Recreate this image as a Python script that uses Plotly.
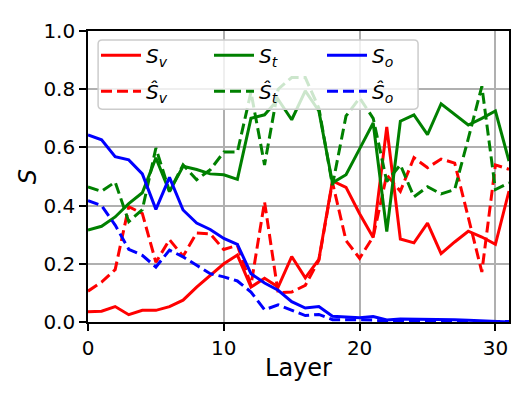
import plotly.graph_objects as go

# camadas (eixo x)
layers = list(range(32))

# valores
s_v = [0.035, 0.037, 0.053, 0.025, 0.04, 0.04, 0.053, 0.075, 0.12, 0.16, 0.20, 0.23,
       0.12, 0.15, 0.12, 0.225, 0.152, 0.215, 0.485, 0.463, 0.372, 0.29, 0.67, 0.285,
       0.272, 0.34, 0.235, 0.275, 0.312, 0.292, 0.267, 0.45]
s_v_hat = [0.106, 0.137, 0.18, 0.396, 0.373, 0.205, 0.283, 0.226, 0.306, 0.303, 0.249, 0.264,
           0.126, 0.413, 0.10, 0.103, 0.126, 0.212, 0.48, 0.28, 0.219, 0.293, 0.506, 0.449,
           0.565, 0.53, 0.56, 0.546, 0.36, 0.172, 0.54, 0.525]
s_t = [0.316, 0.329, 0.361, 0.407, 0.444, 0.564, 0.448, 0.535, 0.524, 0.509, 0.506, 0.49,
       0.70, 0.712, 0.765, 0.695, 0.794, 0.725, 0.478, 0.506, 0.595, 0.684, 0.311, 0.69,
       0.712, 0.644, 0.75, 0.713, 0.677, 0.70, 0.725, 0.553]
s_t_hat = [0.464, 0.449, 0.481, 0.345, 0.386, 0.598, 0.449, 0.54, 0.489, 0.523, 0.584, 0.584,
           0.79, 0.54, 0.80, 0.84, 0.84, 0.735, 0.47, 0.708, 0.77, 0.70, 0.483, 0.54,
           0.43, 0.465, 0.44, 0.455, 0.63, 0.81, 0.455, 0.478]
s_o = [0.643, 0.626, 0.568, 0.557, 0.509, 0.387, 0.497, 0.385, 0.34, 0.318, 0.287, 0.267,
       0.166, 0.134, 0.109, 0.07, 0.048, 0.053, 0.02, 0.017, 0.015, 0.019, 0.007, 0.01,
       0.01, 0.01, 0.009, 0.008, 0.006, 0.004, 0.004, 0.0]
s_o_hat = [0.417, 0.40, 0.333, 0.25, 0.229, 0.189, 0.247, 0.224, 0.195, 0.166, 0.155, 0.141,
           0.103, 0.042, 0.059, 0.04, 0.022, 0.026, 0.008, 0.008, 0.007, 0.007, 0.002, 0.002,
           0.002, 0.002, 0.002, 0.002, 0.002, 0.002, 0.002, 0.002]

FONTE = dict(family="DejaVu Sans", size=20, color="black")

# (dados, nome, cor, tracejado, legenda) -> linha de cima = legend, de baixo = legend2
series = [
    (s_v, "<i>S</i><sub><i>v</i></sub>", "red", "solid", "legend"),
    (s_v_hat, "<i>Ŝ</i><sub><i>v</i></sub>", "red", "11px,5px", "legend2"),
    (s_t, "<i>S</i><sub><i>t</i></sub>", "green", "solid", "legend"),
    (s_t_hat, "<i>Ŝ</i><sub><i>t</i></sub>", "green", "11px,5px", "legend2"),
    (s_o, "<i>S</i><sub><i>o</i></sub>", "blue", "solid", "legend"),
    (s_o_hat, "<i>Ŝ</i><sub><i>o</i></sub>", "blue", "11px,5px", "legend2"),
]

fig = go.Figure()
for dados, nome, cor, tracejado, leg in series:
    fig.add_trace(go.Scatter(x=layers, y=dados, mode="lines", name=nome,
                             line=dict(color=cor, width=3, dash=tracejado), legend=leg))

# moldura da legenda com cantos arredondados (fundo branco semi transparente)
x0, x1, y0, y1 = 0.024, 0.784, 0.7315, 0.969
rx, ry = 0.0095, 0.0138
moldura = (f"M {x0+rx},{y1} L {x1-rx},{y1} Q {x1},{y1} {x1},{y1-ry} L {x1},{y0+ry} "
           f"Q {x1},{y0} {x1-rx},{y0} L {x0+rx},{y0} Q {x0},{y0} {x0},{y0+ry} "
           f"L {x0},{y1-ry} Q {x0},{y1} {x0+rx},{y1} Z")
fig.add_shape(type="path", path=moldura, xref="paper", yref="paper", layer="above",
              fillcolor="rgba(255,255,255,0.8)", line=dict(color="#cccccc", width=1.5))

leg_base = dict(orientation="h", x=0.019, xanchor="left", yanchor="middle",
                bgcolor="rgba(0,0,0,0)", borderwidth=0, entrywidth=58, itemwidth=40,
                font=FONTE)

# a pagina tem 8px de margem no body, entao a figura fica 8px menor
fig.update_layout(
    width=523, height=391,
    margin=dict(l=80, r=22, t=23, b=77),
    paper_bgcolor="white", plot_bgcolor="white",
    font=FONTE,
    legend=dict(leg_base, y=0.917),
    legend2=dict(leg_base, y=0.793),
)
fig.update_xaxes(range=[0, 31], tickvals=[0, 10, 20, 30], showgrid=True, gridcolor="#b0b0b0",
                 gridwidth=1.5, showline=True, mirror=True, linecolor="black", linewidth=1.6,
                 ticks="outside", ticklen=7, tickwidth=1.6, tickcolor="black", automargin=False,
                 title=dict(text="Layer", standoff=0), zeroline=False)
fig.update_yaxes(range=[0, 1], tickvals=[0, 0.2, 0.4, 0.6, 0.8, 1.0], tickformat=".1f",
                 showgrid=True, gridcolor="#b0b0b0", gridwidth=1.5, showline=True, mirror=True,
                 linecolor="black", linewidth=1.6, ticks="outside", ticklen=7, tickwidth=1.6,
                 tickcolor="black", automargin=False,
                 title=dict(text="<i>S</i>", standoff=0), zeroline=False)

fig.write_html("out.html")
